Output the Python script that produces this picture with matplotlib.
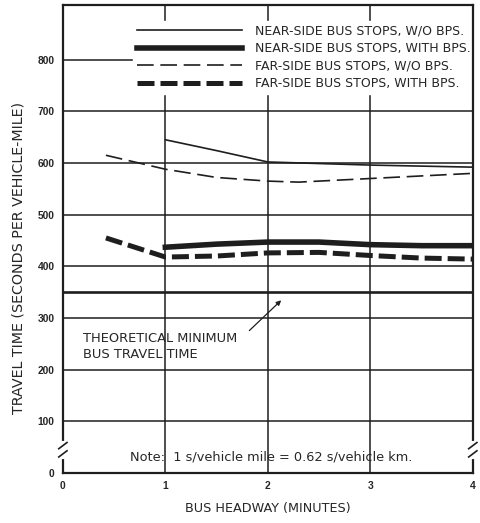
import matplotlib
matplotlib.use("Agg")
import matplotlib.pyplot as plt

plt.rcParams['font.family'] = ['DejaVu Sans']

# values (headway in minutes, travel time in s/veh-mile)
near_wo_x = [1.0, 1.5, 2.0, 2.5, 3.0, 3.5, 4.0]
near_wo_y = [645, 624, 602, 599, 596, 594, 592]

near_with_x = [1.0, 1.5, 2.0, 2.5, 3.0, 3.5, 4.0]
near_with_y = [437, 443, 447, 447, 442, 440, 440]

far_wo_x = [0.42, 1.0, 1.5, 2.0, 2.3, 3.0, 3.5, 4.0]
far_wo_y = [615, 588, 572, 565, 563, 570, 575, 580]

far_with_x = [0.42, 1.0, 1.5, 2.0, 2.5, 3.0, 3.5, 4.0]
far_with_y = [455, 418, 420, 426, 427, 421, 416, 414]

theoretical_min = 350
y_ticks = [0, 100, 200, 300, 400, 500, 600, 700, 800]
x_ticks = [0, 1, 2, 3, 4]
legend_labels = ["NEAR-SIDE BUS STOPS, W/O BPS.",
                 "NEAR-SIDE BUS STOPS, WITH BPS.",
                 "FAR-SIDE BUS STOPS, W/O BPS.",
                 "FAR-SIDE BUS STOPS, WITH BPS."]

ink = '#1e1e1e'
txt = '#262626'

fig = plt.figure(figsize=(4.8, 5.23), dpi=100)
ax = fig.add_axes([0.131, 0.0956, 0.854, 0.894])

ax.set_xlim(0, 4)
ax.set_ylim(0, 905)
ax.set_xticks(x_ticks)
ax.set_yticks(y_ticks)
ax.tick_params(length=0, colors=txt, pad=6)
for lab in ax.get_xticklabels() + ax.get_yticklabels():
    lab.set_fontweight('bold')
    lab.set_fontfamily('Liberation Sans')
    lab.set_fontsize(7.4)
ax.grid(True, color=ink, lw=1.1)
for s in ax.spines.values():
    s.set_color(ink)
    s.set_linewidth(1.6)
    s.set_zorder(6)  # keep the frame on top of the legend box

l1, = ax.plot(near_wo_x, near_wo_y, color=ink, lw=1.2, zorder=3)
l2, = ax.plot(near_with_x, near_with_y, color=ink, lw=4.0, zorder=3)
l3, = ax.plot(far_wo_x, far_wo_y, color=ink, lw=1.2, dashes=(10, 4), zorder=3)
l4, = ax.plot(far_with_x, far_with_y, color=ink, lw=3.6, dashes=(3.4, 1.2), zorder=3)

ax.axhline(theoretical_min, color=ink, lw=1.9, zorder=3)

leg = ax.legend([l1, l2, l3, l4], legend_labels, loc='upper right',
                bbox_to_anchor=(1.003, 0.967), frameon=True, fancybox=False,
                edgecolor='white', facecolor='white', framealpha=1,
                fontsize=9.0, handlelength=8.4, handletextpad=1.0,
                labelspacing=0.36, borderpad=0.3, borderaxespad=0.0)
for t in leg.get_texts():
    t.set_color(txt)

ax.text(0.2, 245, "THEORETICAL MINIMUM\nBUS TRAVEL TIME", fontsize=9.4,
        color=txt, va='center', ha='left', linespacing=1.25)
ax.annotate("", xy=(2.15, 338), xytext=(1.8, 272),
            arrowprops=dict(arrowstyle='-|>', color=ink, lw=0.9,
                            mutation_scale=7))

ax.text(2.03, 31, "Note:  1 s/vehicle mile = 0.62 s/vehicle km.",
        fontsize=9.3, color=txt, ha='center', va='center')

# axis break marks on both vertical spines
brk = 45
for xb in (0, 4):
    ax.plot([xb, xb], [brk - 14, brk + 14], color='white', lw=3,
            clip_on=False, zorder=7)
    ax.plot([xb - 0.04, xb + 0.04], [brk + 2, brk + 14], color=ink, lw=1.2,
            clip_on=False, zorder=8)
    ax.plot([xb - 0.04, xb + 0.04], [brk - 14, brk - 2], color=ink, lw=1.2,
            clip_on=False, zorder=8)

ax.set_xlabel("BUS HEADWAY (MINUTES)", fontsize=9.2, color=txt, labelpad=8)
ax.set_ylabel("TRAVEL TIME (SECONDS PER VEHICLE-MILE)", fontsize=10.3,
              color=txt)
ax.yaxis.set_label_coords(-0.092, 0.46)

fig.savefig("out.png", dpi=100)
